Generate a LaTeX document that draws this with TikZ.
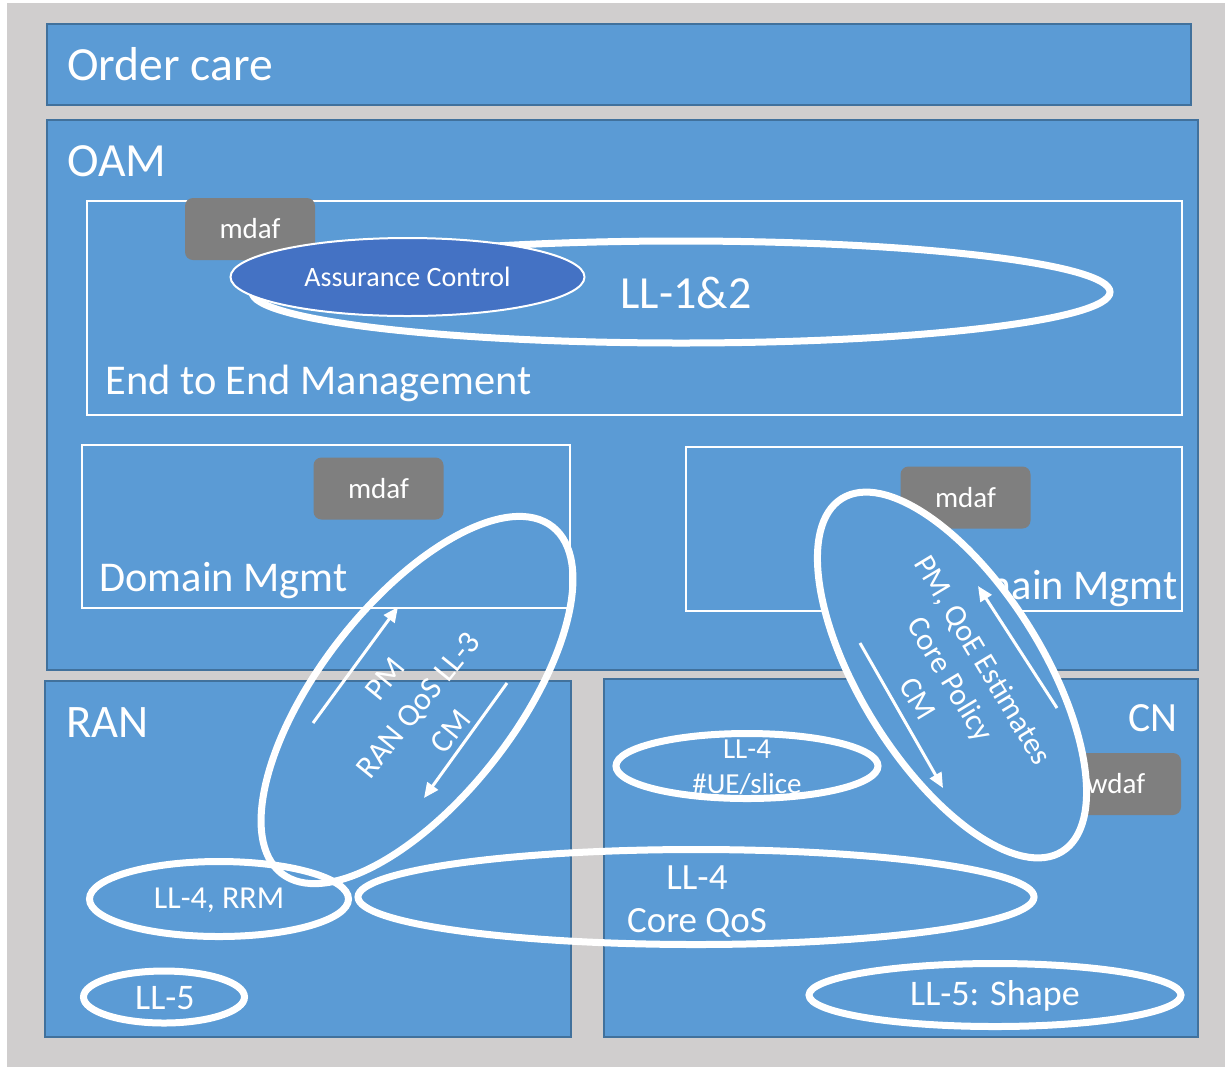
\documentclass[tikz,border=0pt]{standalone}
\usepackage{fontspec}
\setmainfont{Carlito}
\usetikzlibrary{shapes.geometric,arrows.meta}
\definecolor{bggray}{HTML}{D0CECE}
\definecolor{boxblue}{HTML}{5B9BD5}
\definecolor{boxedge}{HTML}{41719C}
\definecolor{dafgray}{HTML}{7F7F7F}
\definecolor{acblue}{HTML}{4472C4}
\tikzset{
  layerbox/.style={fill=boxblue, draw=boxedge, line width=1.2pt},
  framebox/.style={draw=white, line width=1pt},
  title/.style={text=white, inner sep=0pt},
  dafbox/.style={fill=dafgray, rounded corners=4pt, text=white, inner sep=0pt,
    minimum width=65pt, minimum height=31pt, font=\fontsize{14.5}{17}\selectfont},
  loop/.style={ellipse, draw=white, line width=3.5pt, inner sep=0pt},
  inlabel/.style={text=white, inner sep=0pt, align=center},
  flow/.style={draw=white, line width=1.5pt, -{Triangle[length=7.5pt,width=6.5pt]}}
}
\begin{document}
\begin{tikzpicture}[x=0.5pt,y=-0.5pt]
\useasboundingbox (0,0) rectangle (1225,1067);
\fill[bggray] (7,3) rectangle (1225,1067);
% layers
\draw[layerbox] (47,24) rectangle (1191,105);
\draw[layerbox] (47,120) rectangle (1198,670);
\draw[layerbox] (45,681) rectangle (571,1037);
\draw[layerbox] (604,679) rectangle (1198,1037);
\node[title, anchor=base west, font=\fontsize{23.8}{28}\selectfont] (order) at (67,80) {Order care};
\node[title, anchor=base west, font=\fontsize{23.8}{28}\selectfont] (oam) at (67,176) {OAM};
\node[title, anchor=base west, font=\fontsize{23.3}{28}\selectfont] (ran) at (66,737) {RAN};
\node[title, anchor=base east, font=\fontsize{20.8}{25}\selectfont] (cn) at (1178,731) {CN};
% frames
\draw[framebox] (87,201) rectangle (1182,415);
\draw[framebox] (82,445) rectangle (570,608);
\draw[framebox] (686,447) rectangle (1182,611);
\node[title, anchor=base west, font=\fontsize{21.2}{25}\selectfont] (e2e) at (105,394) {End to End Management};
\node[title, anchor=base west, font=\fontsize{21.2}{25}\selectfont] (dml) at (99,591) {Domain Mgmt};
\node[title, anchor=base east, font=\fontsize{21.2}{25}\selectfont] (dmr) at (1178,599) {Domain Mgmt};
% analytics functions
\node[dafbox] (mdaf1) at (250,229) {mdaf};
\node[dafbox] (mdaf2) at (378.5,488.5) {mdaf};
\node[dafbox] (mdaf3) at (965.5,497.5) {mdaf};
\node[dafbox] (wdaf) at (1116,784) {wdaf};
% LL-1&2 and assurance control
\node[loop, minimum width=429pt, minimum height=51pt] (ll12) at (681,292) {};
\node[inlabel, font=\fontsize{23}{28}\selectfont] (ll12t) at (686,293) {LL-1\&2};
\node[ellipse, fill=acblue, draw=white, line width=1pt, inner sep=0pt,
  minimum width=177pt, minimum height=39pt] (ac) at (407.5,277) {};
\node[inlabel, font=\fontsize{14}{17}\selectfont] (act) at (407.5,277) {Assurance Control};
% RAN QoS loop
\node[loop, rotate=52, minimum width=220pt, minimum height=98pt] (ll3) at (417,700) {};
\node[inlabel, rotate=51, font=\fontsize{16}{21}\selectfont] (ll3t) at (418,705) {PM\\RAN QoS LL-3\\CM};
\coordinate (pmA) at (313,723);
\coordinate (pmB) at (398,607);
\coordinate (cmA) at (507,683);
\coordinate (cmB) at (424,798);
\draw[flow] (pmA) -- (pmB);
\draw[flow] (cmA) -- (cmB);
% core loop (filled)
\node[loop, fill=boxblue, rotate=-58, minimum width=208pt, minimum height=91pt] (core) at (952,675) {};
\node[inlabel, rotate=-59, font=\fontsize{15.5}{19}\selectfont] (coret) at (951,679) {PM, QoE Estimates\\Core Policy\\CM};
\coordinate (qA) at (1057,708);
\coordinate (qB) at (978,586);
\coordinate (pA) at (860,643);
\coordinate (pB) at (943,788);
\draw[flow] (qA) -- (qB);
\draw[flow] (pA) -- (pB);
% LL-4 / LL-5 loops
\node[loop, minimum width=131pt, minimum height=32.5pt] (ueslice) at (747,766) {};
\node[inlabel, font=\fontsize{14.5}{17.5}\selectfont] (uesl) at (747,767) {LL-4\\\#UE/slice};
\node[loop, minimum width=129.5pt, minimum height=37.5pt] (rrm) at (219,899) {};
\node[inlabel, font=\fontsize{16}{19}\selectfont] (rrmt) at (219,900) {LL-4, RRM};
\node[loop, minimum width=338pt, minimum height=47.5pt] (coreqos) at (696,897) {};
\node[inlabel, font=\fontsize{18.5}{21.5}\selectfont] (coreqost) at (697,902) {LL-4\\Core QoS};
\node[loop, minimum width=80.5pt, minimum height=26pt] (ll5) at (164,997) {};
\node[inlabel, font=\fontsize{18}{21}\selectfont] (ll5t) at (165,998) {LL-5};
\node[loop, minimum width=186pt, minimum height=31.5pt] (shape) at (995,995) {};
\node[inlabel, font=\fontsize{18}{21}\selectfont] (shapet) at (995,996) {LL-5: Shape};
\end{tikzpicture}
\end{document}
